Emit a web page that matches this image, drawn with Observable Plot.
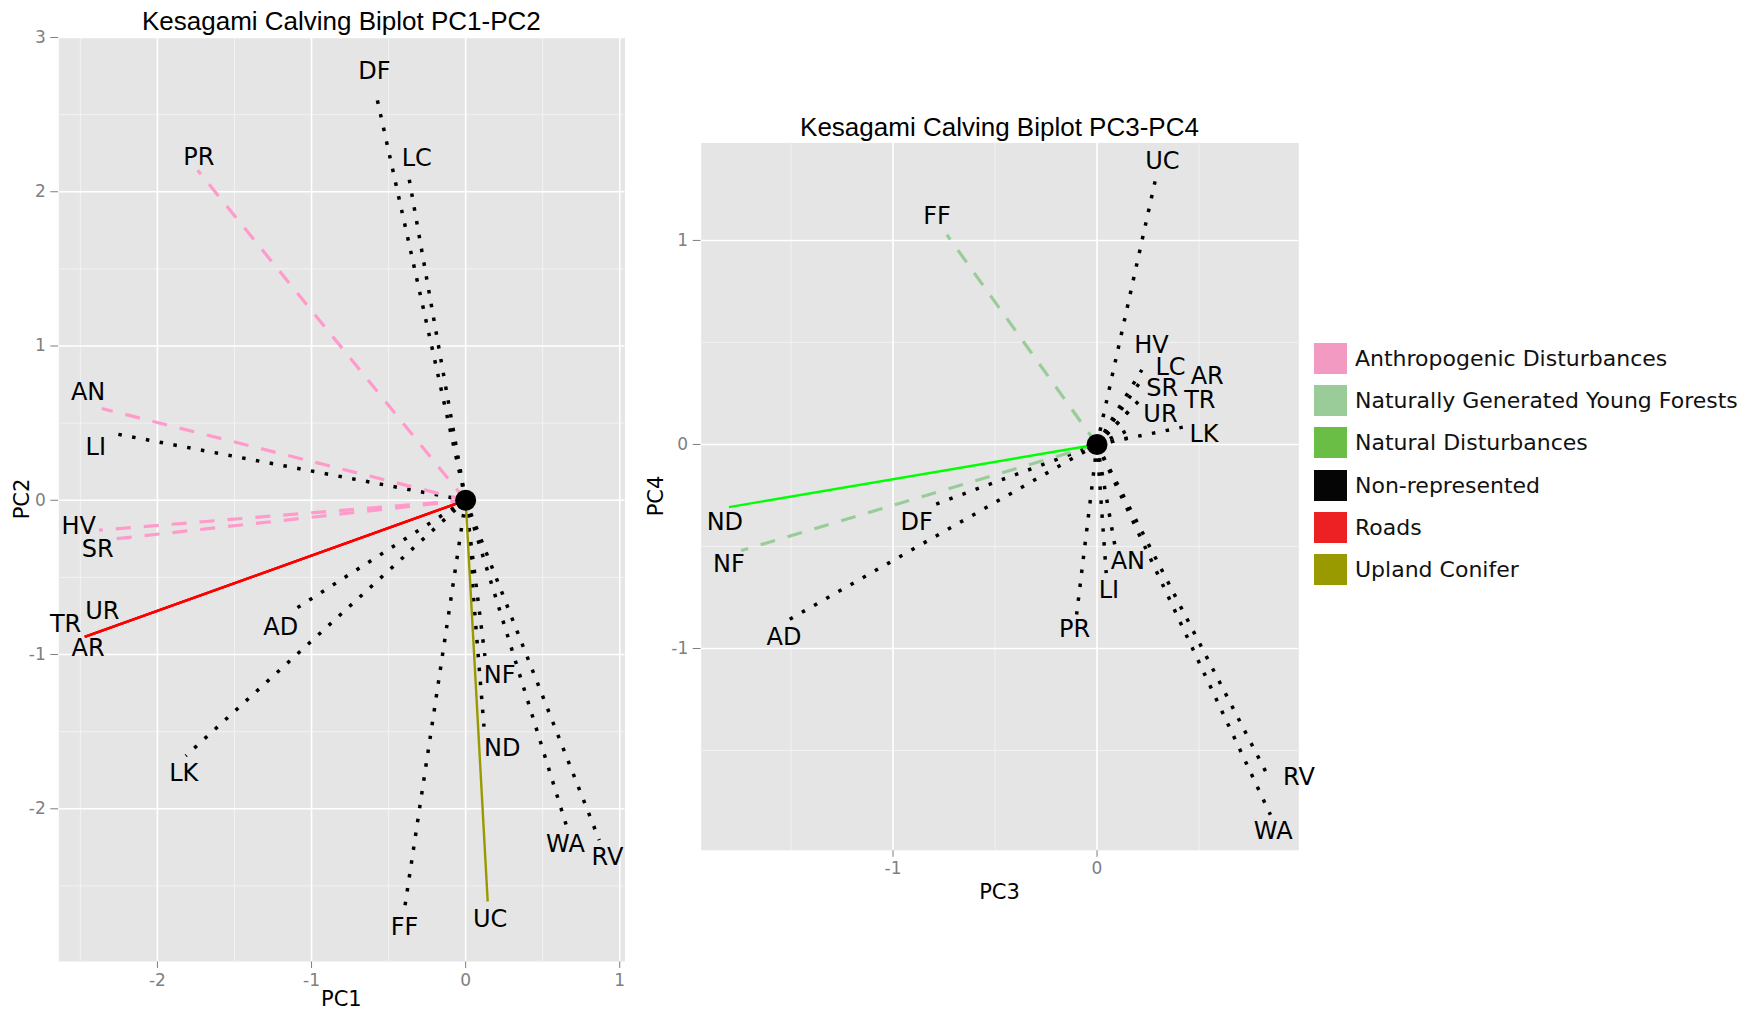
<!DOCTYPE html>
<html>
<head>
<meta charset="utf-8">
<script src="https://cdn.jsdelivr.net/npm/d3@7"></script>
<script src="https://cdn.jsdelivr.net/npm/@observablehq/plot@0.6"></script>
<style>
  html, body { margin: 0; padding: 0; background: #ffffff; }
  #page { position: relative; width: 1758px; height: 1015px; overflow: hidden; background: #fff; }
  .abs { position: absolute; }
  .title { font-family: "Liberation Sans", Arial, sans-serif; font-size: 26px; color: #000; white-space: nowrap; transform: translate(-50%, 0); line-height: 1; }
  .axtitle { font-family: "DejaVu Sans", sans-serif; font-size: 21px; color: #000; white-space: nowrap; line-height: 1; }
  .legrow { position: absolute; left: 1314px; height: 31px; display: flex; align-items: center; }
  .sw { width: 33px; height: 31px; margin-right: 8px; }
  .legtxt { font-family: "DejaVu Sans", sans-serif; font-size: 22px; color: #111; white-space: nowrap; }
</style>
</head>
<body>
<div id="page"></div>
<script>
// ---------- data ----------
const names = ["DF","LC","PR","AN","LI","HV","SR","UR","TR","AR","AD","LK","FF","UC","NF","ND","WA","RV"];

// PC1-PC2 loadings (vector ends) and label positions
const pc1 = [-0.587,-0.370,-1.739,-2.361,-2.294,-2.379,-2.273,-2.472,-2.472,-2.472,-1.126,-1.816,-0.397,0.143,0.125,0.119,0.661,0.867];
const pc2 = [2.658,2.103,2.139,0.595,0.435,-0.194,-0.250,-0.886,-0.886,-0.886,-0.718,-1.657,-2.652,-2.601,-1.010,-1.468,-2.133,-2.203];
const pc1Label = [-0.592,-0.317,-1.731,-2.450,-2.400,-2.511,-2.387,-2.358,-2.596,-2.450,-1.200,-1.829,-0.397,0.159,0.221,0.238,0.648,0.920];
const pc2Label = [2.780,2.215,2.222,0.701,0.346,-0.166,-0.316,-0.718,-0.802,-0.961,-0.824,-1.772,-2.769,-2.714,-1.132,-1.608,-2.232,-2.316];
const groupLeft = ["Non-represented","Non-represented","Anthropogenic Disturbances","Anthropogenic Disturbances","Non-represented",
  "Anthropogenic Disturbances","Anthropogenic Disturbances","Roads","Roads","Roads","Non-represented","Non-represented",
  "Non-represented","Upland Conifer","Non-represented","Non-represented","Non-represented","Non-represented"];

// PC3-PC4 loadings and label positions
const pc3 = [-0.810,0.210,-0.100,0.087,0.045,0.220,0.203,0.154,0.150,0.141,-1.510,0.421,-0.736,0.290,-1.744,-1.804,0.850,0.846];
const pc4 = [-0.300,0.305,-0.833,-0.492,-0.631,0.366,0.212,0.162,0.031,0.064,-0.859,0.085,1.028,1.314,-0.520,-0.307,-1.815,-1.640];
const pc3Label = [-0.884,0.360,-0.110,0.151,0.058,0.267,0.320,0.311,0.504,0.540,-1.534,0.524,-0.784,0.320,-1.804,-1.824,0.864,0.990];
const pc4Label = [-0.381,0.379,-0.908,-0.574,-0.716,0.485,0.273,0.150,0.216,0.333,-0.944,0.049,1.118,1.389,-0.585,-0.381,-1.897,-1.632];
const groupRight = ["Non-represented","Non-represented","Non-represented","Non-represented","Non-represented","Non-represented",
  "Non-represented","Non-represented","Non-represented","Non-represented","Non-represented","Non-represented",
  "Naturally Generated Young Forests","Non-represented","Naturally Generated Young Forests","Natural Disturbances",
  "Non-represented","Non-represented"];

const groups = ["Anthropogenic Disturbances","Naturally Generated Young Forests","Natural Disturbances","Non-represented","Roads","Upland Conifer"];
const legendColors = ["#F39AC2","#99CC99","#6ABD45","#050505","#ED2024","#999900"];
const lineColors = ["#FF9ACB","#99CC99","#00FF00","#000000","#FF0000","#999900"];
const lineStyles = ["dashed","dashed","solid","dotted","solid","solid"];

const origin = [{x: 0, y: 0}];

const leftXTicks = [-2,-1,0,1], leftYTicks = [-2,-1,0,1,2,3];
const leftXMinor = [-2.5,-1.5,-0.5,0.5], leftYMinor = [-2.5,-1.5,-0.5,0.5,1.5,2.5];
const rightXTicks = [-1,0], rightYTicks = [-1,0,1];
const rightXMinor = [-1.5,-0.5,0.5], rightYMinor = [-1.5,-0.5,0.5];

// ---------- helpers ----------
const styleFor = {
  dashed: {strokeWidth: 3.2, strokeDasharray: "15,13"},
  dotted: {strokeWidth: 3.5, strokeDasharray: "3.5,10.5"},
  solid:  {strokeWidth: 2.4}
};

function rows(xs, ys, lxs, lys, gs) {
  return names.map((n, i) => ({name: n, x: xs[i], y: ys[i], lx: lxs[i], ly: lys[i], group: gs[i]}));
}

function vectorMarks(data) {
  const order = [3, 0, 1, 2, 4, 5];
  return order.map(gi => {
    const sub = data.filter(d => d.group === groups[gi]);
    return Plot.link(sub, {
      x1: () => origin[0].x, y1: () => origin[0].y, x2: "x", y2: "y",
      stroke: lineColors[gi], ...styleFor[lineStyles[gi]]
    });
  });
}

function biplot(data, opts) {
  return Plot.plot({
    width: opts.width, height: opts.height,
    marginLeft: opts.ml, marginRight: opts.mr, marginTop: opts.mt, marginBottom: opts.mb,
    style: {fontFamily: "DejaVu Sans, sans-serif", fontSize: "17px", color: "#7F7F7F", background: "transparent", overflow: "visible"},
    x: {domain: opts.xd, ticks: opts.xt, tickSize: 7, tickPadding: 5, label: null, tickFormat: d => String(d)},
    y: {domain: opts.yd, ticks: opts.yt, tickSize: 8, tickPadding: 5, label: null, tickFormat: d => String(d)},
    marks: [
      Plot.frame({fill: "#E5E5E5", stroke: "none"}),
      Plot.ruleX(opts.xm, {stroke: "#F2F2F2", strokeWidth: 1}),
      Plot.ruleY(opts.ym, {stroke: "#F2F2F2", strokeWidth: 1}),
      Plot.ruleX(opts.xt, {stroke: "#FFFFFF", strokeWidth: 1.6}),
      Plot.ruleY(opts.yt, {stroke: "#FFFFFF", strokeWidth: 1.6}),
      ...vectorMarks(data),
      Plot.dot(origin, {x: "x", y: "y", r: 10.5, fill: "#000", stroke: "none"}),
      Plot.text(data, {x: "lx", y: "ly", text: "name", fontSize: 24, fontFamily: "DejaVu Sans, sans-serif", fill: "#000", textAnchor: "middle", lineAnchor: "middle"})
    ]
  });
}

const page = document.getElementById("page");

function place(el, left, top) {
  el.style.position = "absolute"; el.style.left = left + "px"; el.style.top = top + "px";
  page.appendChild(el);
}

const leftData = rows(pc1, pc2, pc1Label, pc2Label, groupLeft);
const leftSvg = biplot(leftData, {
  width: 640, height: 1015, ml: 58.3, mr: 15.5, mt: 37, mb: 54,
  xd: [-2.64, 1.034], yd: [-2.99, 3.0], xt: leftXTicks, yt: leftYTicks, xm: leftXMinor, ym: leftYMinor
});
place(leftSvg, 0, 0);

const rightData = rows(pc3, pc4, pc3Label, pc4Label, groupRight);
const rightSvg = biplot(rightData, {
  width: 670, height: 1015, ml: 60.7, mr: 11.7, mt: 142.4, mb: 165.2,
  xd: [-1.94, 0.989], yd: [-1.989, 1.478], xt: rightXTicks, yt: rightYTicks, xm: rightXMinor, ym: rightYMinor
});
place(rightSvg, 640, 0);

function addText(cls, txt, left, top, extra) {
  const d = document.createElement("div");
  d.className = "abs " + cls; d.textContent = txt;
  d.style.left = left + "px"; d.style.top = top + "px";
  if (extra) Object.assign(d.style, extra);
  page.appendChild(d);
  return d;
}
addText("title", "Kesagami Calving Biplot PC1-PC2", 341.4, 8);
addText("title", "Kesagami Calving Biplot PC3-PC4", 999.5, 114);

addText("axtitle", "PC1", 341.4, 989, {transform: "translate(-50%,0)"});
addText("axtitle", "PC3", 999.5, 882, {transform: "translate(-50%,0)"});
addText("axtitle", "PC2", 22, 499, {transform: "translate(-50%,-50%) rotate(-90deg)"});
addText("axtitle", "PC4", 656, 496, {transform: "translate(-50%,-50%) rotate(-90deg)"});

groups.forEach((g, i) => {
  const row = document.createElement("div");
  row.className = "legrow";
  row.style.top = (342.7 + 42.3 * i) + "px";
  const sw = document.createElement("div");
  sw.className = "sw"; sw.style.background = legendColors[i];
  const tx = document.createElement("div");
  tx.className = "legtxt"; tx.textContent = g;
  row.appendChild(sw); row.appendChild(tx);
  page.appendChild(row);
});
</script>
</body>
</html>
